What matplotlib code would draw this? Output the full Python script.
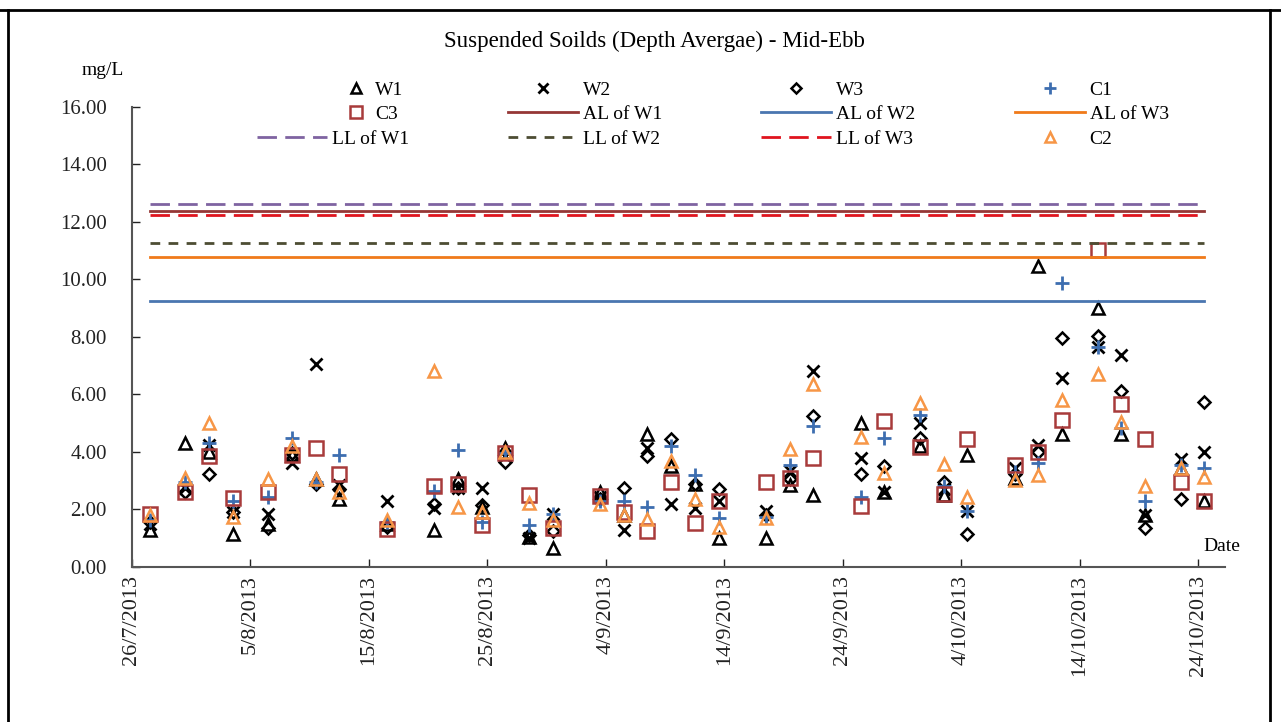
#coding: utf-8
import matplotlib
matplotlib.use('Agg')
import matplotlib.pyplot as plt
import matplotlib.dates as mdates
from matplotlib.lines import Line2D
from matplotlib.ticker import FuncFormatter
import numpy as np
import pandas as pd

plt.rcParams['font.family'] = ['Liberation Serif', 'DejaVu Serif']

# sampling dates (mid-ebb, around noon)
dates = ['2013-07-27', '2013-07-30', '2013-08-01', '2013-08-03', '2013-08-06', '2013-08-08',
	'2013-08-10', '2013-08-12', '2013-08-16', '2013-08-20', '2013-08-22', '2013-08-24',
	'2013-08-26', '2013-08-28', '2013-08-30', '2013-09-03', '2013-09-05', '2013-09-07',
	'2013-09-09', '2013-09-11', '2013-09-13', '2013-09-17', '2013-09-19', '2013-09-21',
	'2013-09-25', '2013-09-27', '2013-09-30', '2013-10-02', '2013-10-04', '2013-10-08',
	'2013-10-10', '2013-10-12', '2013-10-15', '2013-10-17', '2013-10-19', '2013-10-22',
	'2013-10-24']

W1 = [1.3, 4.3, 4.0, 1.15, 1.5, 3.9, 3.05, 2.35, 1.5, 1.3, 3.05, 2.1, 4.15, 1.05, 0.65,
	2.6, 1.8, 4.63, 3.5, 2.9, 1.0, 1.0, 2.85, 2.5, 5.0, 2.6, 4.2, 2.5, 3.9, 3.1,
	10.47, 4.63, 9.0, 4.63, 1.8, 3.45, 2.3]
W2 = [1.5, 2.75, 4.25, 1.9, 1.85, 3.6, 7.05, 2.85, 2.3, 2.05, 2.75, 2.75, 3.85, 1.0, 1.85,
	2.45, 1.3, 4.15, 2.2, 2.05, 2.3, 1.95, 3.35, 6.83, 3.8, 2.6, 5.0, 2.7, 1.95, 3.45,
	4.25, 6.57, 7.65, 7.37, 1.8, 3.75, 4.0]
W3 = [1.55, 2.6, 3.25, 1.9, 1.35, 3.95, 2.9, 2.7, 1.4, 2.2, 2.75, 2.15, 3.65, 1.1, 1.25,
	2.35, 2.75, 3.85, 4.45, 2.9, 2.7, 1.8, 3.05, 5.25, 3.22, 3.5, 4.5, 2.95, 1.15, 3.25,
	4.0, 7.97, 8.03, 6.12, 1.35, 2.35, 5.75]
C1 = [1.65, 2.95, 4.3, 2.3, 2.45, 4.5, 2.95, 3.9, 1.55, 2.65, 4.07, 1.55, 3.95, 1.45, 1.85,
	2.3, 2.3, 2.1, 4.2, 3.2, 1.7, 1.75, 3.55, 4.9, 2.45, 4.5, 5.3, 2.8, 1.95, 3.3,
	3.6, 9.87, 7.65, 4.85, 2.3, 3.55, 3.45]
C3 = [1.85, 2.6, 3.85, 2.4, 2.6, 3.9, 4.15, 3.25, 1.32, 2.8, 2.9, 1.45, 3.95, 2.5, 1.35,
	2.47, 1.9, 1.25, 2.95, 1.53, 2.3, 2.95, 3.1, 3.8, 2.12, 5.07, 4.18, 2.55, 4.45, 3.55,
	4.0, 5.1, 11.03, 5.67, 4.45, 2.95, 2.3]
C2 = [1.8, 3.1, 5.0, 1.75, 3.05, 4.2, 3.05, 2.6, 1.63, 6.82, 2.1, 1.9, 4.0, 2.23, 1.63,
	2.2, 1.8, 1.68, 3.7, 2.35, 1.4, 1.7, 4.1, 6.37, 4.53, 3.27, 5.7, 3.58, 2.44, 3.03,
	3.2, 5.8, 6.7, 5.04, 2.8, 3.45, 3.13]

# action / limit levels
AL_W1 = 12.38
AL_W2 = 9.25
AL_W3 = 10.78
LL_W1 = 12.64
LL_W2 = 11.27
LL_W3 = 12.23

legend_rows = ['W1', 'W2', 'W3', 'C1',
	'C3', 'AL of W1', 'AL of W2', 'AL of W3',
	'LL of W1', 'LL of W2', 'LL of W3', 'C2']


def _date_fmt(x, pos=None):
	d = mdates.num2date(x)
	return '%d/%d/%d' % (d.day, d.month, d.year)


def _level(ax, xs, val, col, lab, dash=None):
	ys = [val] * len(xs)
	if dash is None:
		h, = ax.plot(xs, ys, color=col, lw=2, label=lab)
	else:
		h, = ax.plot(xs, ys, color=col, lw=2, label=lab, dashes=dash)
	return h


def _pts(ax, xs, ys, mk, col, lab, ms=9, mew=1.8):
	h, = ax.plot(xs, ys, ls='none', marker=mk, markersize=ms, markerfacecolor='none',
		markeredgecolor=col, markeredgewidth=mew, label=lab)
	return h


x = pd.to_datetime(dates) + pd.Timedelta(hours=12)

fig = plt.figure(figsize=(12.81, 7.22), dpi=100)
ax = fig.add_axes([0.103, 0.2147, 0.853, 0.6371])

hd = {}
hd['W1'] = _pts(ax, x, W1, '^', 'black', 'W1')
hd['W2'] = _pts(ax, x, W2, 'x', 'black', 'W2', ms=9, mew=2)
hd['W3'] = _pts(ax, x, W3, 'D', 'black', 'W3', ms=6.5)
hd['C1'] = _pts(ax, x, C1, '+', '#3D6EB0', 'C1', ms=10, mew=2)
hd['C3'] = _pts(ax, x, C3, 's', '#A83B3B', 'C3', ms=10)
hd['AL of W1'] = _level(ax, x, AL_W1, '#953735', 'AL of W1')
hd['AL of W2'] = _level(ax, x, AL_W2, '#4A76B0', 'AL of W2')
hd['AL of W3'] = _level(ax, x, AL_W3, '#F07A1A', 'AL of W3')
hd['LL of W1'] = _level(ax, x, LL_W1, '#7F63A1', 'LL of W1', (7, 3))
hd['LL of W2'] = _level(ax, x, LL_W2, '#4D4D33', 'LL of W2', (3.5, 3))
hd['LL of W3'] = _level(ax, x, LL_W3, '#E0141E', 'LL of W3', (7, 3))
hd['C2'] = _pts(ax, x, C2, '^', '#F79646', 'C2')

# legend is filled row by row in the original, matplotlib fills columns.
# first column's W1 / C3 sit further right, so they get their own small legend
blank = Line2D([], [], alpha=0)
order = []
hs = []
for c in range(4):
	for r in range(3):
		k = legend_rows[r * 4 + c]
		if k in ('W1', 'C3'):
			hs.append(blank)
			order.append(' ')
		else:
			hs.append(hd[k])
			order.append(k)
leg_top = 1 - 81 / 722.0
lg_kw = dict(frameon=False, fontsize=14, labelspacing=0.36, borderpad=0,
	borderaxespad=0, markerscale=0.8)
fig.legend(hs, order, ncol=4, loc='upper left', bbox_to_anchor=(257 / 1281.0, leg_top),
	handlelength=3.6, columnspacing=5.1, handletextpad=0.25, **lg_kw)
fig.legend([hd['W1'], hd['C3']], ['W1', 'C3'], ncol=1, loc='upper left',
	bbox_to_anchor=(342 / 1281.0, leg_top), handlelength=1.4, handletextpad=0.3, **lg_kw)

ax.set_xlim(pd.Timestamp('2013-07-26'), pd.Timestamp('2013-10-26 05:00'))
ax.set_ylim(0, 16)
ax.set_yticks(np.arange(0, 16.01, 2))
ax.yaxis.set_major_formatter(FuncFormatter(lambda v, p: '%.2f' % v))
ticks = pd.date_range('2013-07-26', '2013-10-24', freq='10D')
ax.set_xticks(ticks)
ax.xaxis.set_major_formatter(FuncFormatter(_date_fmt))
for lb in ax.get_xticklabels():
	lb.set_rotation(90)
ax.tick_params(direction='in', length=6, width=1, colors='#222222')
ax.tick_params(axis='y', pad=18, labelsize=15)
ax.tick_params(axis='x', pad=6, labelsize=16)

for s in ['top', 'right']:
	ax.spines[s].set_visible(False)
for s in ['left', 'bottom']:
	ax.spines[s].set_color('#555555')
	ax.spines[s].set_linewidth(1.5)

fig.text(0.511, 0.942, 'Suspended Soilds (Depth Avergae) - Mid-Ebb', ha='center', va='center', fontsize=16.5)
fig.text(0.080, 0.903, 'mg/L', ha='center', va='center', fontsize=14)
fig.text(0.954, 0.243, 'Date', ha='center', va='center', fontsize=14)

# outer frame
fig.add_artist(Line2D([0, 1], [0.986, 0.986], color='black', lw=2))
fig.add_artist(Line2D([0.0065, 0.0065], [0, 0.986], color='black', lw=2))
fig.add_artist(Line2D([0.9915, 0.9915], [0, 0.986], color='black', lw=2))

fig.savefig('out.png', dpi=100)
